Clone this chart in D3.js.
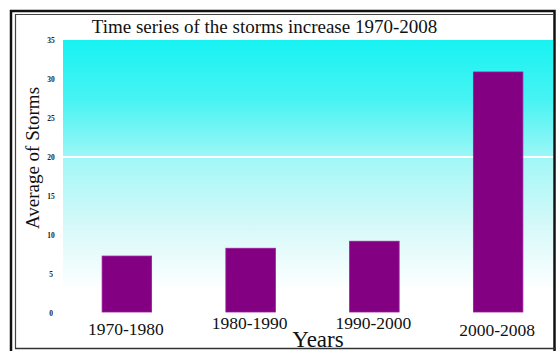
<!DOCTYPE html>
<html>
<head>
<meta charset="utf-8">
<script src="https://cdn.jsdelivr.net/npm/d3@7"></script>
<style>
  html, body { margin: 0; padding: 0; background: #fff; }
  svg { display: block; }
</style>
</head>
<body>
<svg id="chart" width="556" height="351"></svg>
<script>
const categories = ["1970-1980", "1980-1990", "1990-2000", "2000-2008"];
const values = [7.3, 8.3, 9.2, 30.9];
const yTicks = [0, 5, 10, 15, 20, 25, 30, 35];
const gridValues = [20];
const labelBaselines = [335, 329, 329, 336];
const title = "Time series of the storms increase 1970-2008";
const yTitle = "Average of Storms";
const xTitle = "Years";

const svg = d3.select("#chart");
const plotLeft = 63, plotRight = 553, plotTop = 40, plotBottom = 313;

const x = d3.scaleBand().domain(categories).range([65, 560]).paddingInner(0.6).paddingOuter(0.3);
const y = d3.scaleLinear().domain([0, 35]).range([plotBottom, plotTop]);

const defs = svg.append("defs");
const grad = defs.append("linearGradient").attr("id", "bg").attr("x1", 0).attr("y1", 0).attr("x2", 0).attr("y2", 1);
[[0, "#18f2f2"], [0.22, "#48f3f3"], [0.45, "#a6f7f7"], [0.7, "#daf9f9"], [0.92, "#ffffff"], [1, "#ffffff"]]
  .forEach(([o, c]) => grad.append("stop").attr("offset", o).attr("stop-color", c));

// frame
svg.append("rect").attr("x", 11).attr("y", 11).attr("width", 543.5).attr("height", 342)
  .attr("fill", "none").attr("stroke", "#111").attr("stroke-width", 2.5);
svg.append("path").attr("d", `M15.5,349 V14.5 H553`).attr("fill", "none").attr("stroke", "#444").attr("stroke-width", 1.2);
svg.append("line").attr("x1", 15).attr("x2", 556).attr("y1", 348.5).attr("y2", 348.5).attr("stroke", "#333").attr("stroke-width", 1.5);

// plot background
svg.append("rect").attr("x", plotLeft).attr("y", plotTop).attr("width", plotRight - plotLeft).attr("height", plotBottom - plotTop)
  .attr("fill", "url(#bg)");

// gridline
svg.selectAll(".grid").data(gridValues).join("line").attr("class", "grid")
  .attr("x1", plotLeft).attr("x2", plotRight).attr("y1", d => y(d)).attr("y2", d => y(d))
  .attr("stroke", "#ffffff").attr("stroke-width", 2);

// y axis (tiny tick labels)
const yAxis = d3.axisLeft(y).tickValues(yTicks).tickSize(0).tickPadding(0);
const ya = svg.append("g").attr("transform", `translate(56,0)`).call(yAxis);
ya.select(".domain").remove();
ya.selectAll("text").attr("font-family", "Liberation Serif, serif").attr("font-size", 7.5).attr("font-weight", "bold")
  .attr("fill", "#222").attr("text-anchor", "middle").attr("dx", -5);

// bars
svg.selectAll(".bar").data(values).join("rect").attr("class", "bar")
  .attr("x", (d, i) => x(categories[i]))
  .attr("y", d => y(d))
  .attr("width", x.bandwidth())
  .attr("height", d => y(0) - y(d) - 1)
  .attr("fill", "#830083")
  .attr("stroke", "#9a1a9a").attr("stroke-width", 0.8);

// x labels
svg.selectAll(".xl").data(categories).join("text").attr("class", "xl")
  .attr("x", d => x(d) + x.bandwidth() / 2 - 1)
  .attr("y", (d, i) => labelBaselines[i])
  .attr("text-anchor", "middle")
  .attr("font-family", "Liberation Serif, serif").attr("font-size", 17.5).attr("fill", "#111")
  .text(d => d);

// titles
svg.append("text").attr("x", 264.5).attr("y", 33).attr("text-anchor", "middle")
  .attr("font-family", "Liberation Serif, serif").attr("font-size", 19).attr("fill", "#111").text(title);
svg.append("text").attr("transform", "translate(39,158) rotate(-90)").attr("text-anchor", "middle")
  .attr("font-family", "Liberation Serif, serif").attr("font-size", 19).attr("fill", "#111").text(yTitle);
svg.append("text").attr("x", 318).attr("y", 347).attr("text-anchor", "middle")
  .attr("font-family", "Liberation Serif, serif").attr("font-size", 23).attr("fill", "#111").text(xTitle);
</script>
</body>
</html>
